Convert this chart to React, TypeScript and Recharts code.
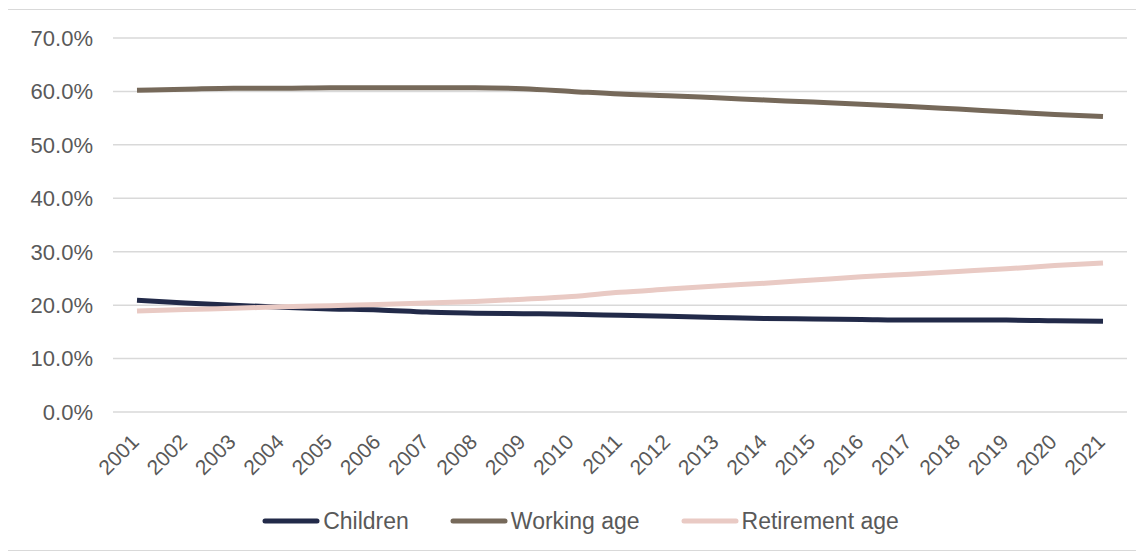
import React from "react";
import { CartesianGrid, Legend, Line, LineChart, XAxis, YAxis } from "recharts";

const years = [
  "2001", "2002", "2003", "2004", "2005", "2006", "2007", "2008", "2009", "2010", "2011",
  "2012", "2013", "2014", "2015", "2016", "2017", "2018", "2019", "2020", "2021",
];
const children = [
  20.9, 20.4, 20.0, 19.6, 19.3, 19.1, 18.7, 18.5, 18.4, 18.3, 18.1,
  17.9, 17.7, 17.5, 17.4, 17.3, 17.2, 17.2, 17.2, 17.1, 17.0,
];
const workingAge = [
  60.2, 60.4, 60.6, 60.6, 60.7, 60.7, 60.7, 60.7, 60.5, 60.0, 59.5,
  59.2, 58.8, 58.4, 58.0, 57.6, 57.2, 56.7, 56.2, 55.7, 55.3,
];
const retirementAge = [
  18.9, 19.2, 19.4, 19.7, 19.9, 20.1, 20.4, 20.7, 21.1, 21.6, 22.4,
  23.0, 23.6, 24.1, 24.7, 25.3, 25.8, 26.3, 26.8, 27.4, 27.9,
];
const yTicks = [0, 10, 20, 30, 40, 50, 60, 70];

const series = [
  { key: "children", name: "Children", color: "#222a49" },
  { key: "working", name: "Working age", color: "#76695a" },
  { key: "retirement", name: "Retirement age", color: "#e9cac4" },
];

const data = years.map((year, i) => ({
  year,
  children: children[i],
  working: workingAge[i],
  retirement: retirementAge[i],
}));

const textColor = "#595959";
const font = "'Liberation Sans', Arial, sans-serif";

function YearTick(props: any) {
  const { x, y, payload } = props;
  const ax = x - 2;
  const ay = y + 18;
  return (
    <text
      x={ax}
      y={ay}
      transform={`rotate(-45, ${ax}, ${ay})`}
      textAnchor="end"
      dominantBaseline="central"
      fill={textColor}
      fontSize={21}
      fontFamily={font}
    >
      {payload.value}
    </text>
  );
}

function LegendRow() {
  return (
    <div
      style={{
        display: "flex",
        justifyContent: "center",
        alignItems: "center",
        height: 30,
        paddingLeft: 26,
        fontFamily: font,
        fontSize: 23,
        color: textColor,
      }}
    >
      {series.map((s, i) => (
        <div
          key={s.key}
          style={{ display: "flex", alignItems: "center", marginLeft: i === 0 ? 0 : 41 }}
        >
          <svg width={58} height={8} style={{ marginRight: 3 }}>
            <line x1={3} y1={4} x2={55} y2={4} stroke={s.color} strokeWidth={5} strokeLinecap="round" />
          </svg>
          <span>{s.name}</span>
        </div>
      ))}
    </div>
  );
}

function App() {
  return (
    <div
      style={{
        width: 1128,
        height: 540,
        border: "1px solid #d9d9d9",
        borderLeftWidth: 2,
        marginLeft: -2,
        marginTop: 1,
        background: "#fff",
        fontFamily: font,
      }}
    >
      <LineChart
        width={1128}
        height={540}
        data={data}
        margin={{ top: 28, right: 9, bottom: 14, left: 0 }}
      >
        <CartesianGrid vertical={false} stroke="#d9d9d9" strokeWidth={1.5} />
        <XAxis
          dataKey="year"
          axisLine={false}
          tickLine={false}
          interval={0}
          padding={{ left: 24, right: 24 }}
          height={94}
          tick={<YearTick />}
        />
        <YAxis
          domain={[0, 70]}
          ticks={yTicks}
          width={105}
          axisLine={false}
          tickLine={false}
          tickMargin={14}
          tickFormatter={(v: number) => `${v.toFixed(1)}%`}
          tick={{ fill: textColor, fontSize: 22, fontFamily: font }}
        />
        <Legend verticalAlign="bottom" height={30} content={() => <LegendRow />} />
        {series.map((s) => (
          <Line
            key={s.key}
            type="monotone"
            dataKey={s.key}
            name={s.name}
            stroke={s.color}
            strokeWidth={5}
            dot={false}
            isAnimationActive={false}
          />
        ))}
      </LineChart>
    </div>
  );
}

export default App;
